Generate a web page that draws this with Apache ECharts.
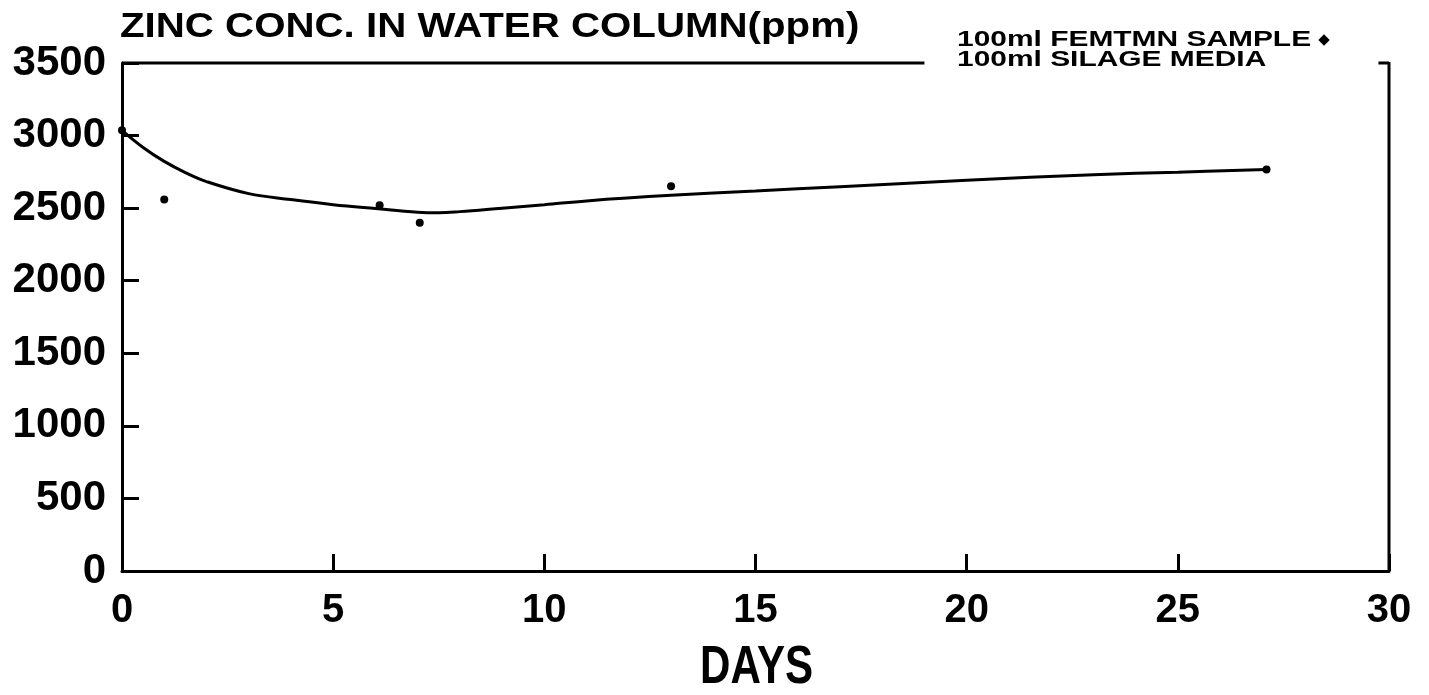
<!DOCTYPE html>
<html>
<head>
<meta charset="utf-8">
<script src="https://cdn.jsdelivr.net/npm/echarts@6/dist/echarts.min.js"></script>
<style>
  html, body { margin: 0; padding: 0; background: #fff; }
  #chart { width: 1429px; height: 695px; }
</style>
</head>
<body>
<div id="chart"></div>
<script>
// measured points (days, ppm)
const pointDays = [0, 1, 6.1, 7.05, 13, 27.1];
const pointZinc = [3036, 2560, 2520, 2400, 2650, 2766];

// fitted curve
const curveDays = [0, 0.5, 1, 1.5, 2, 3, 4, 5, 6, 7, 7.5, 8, 9, 10, 11, 13, 15, 17, 20, 23, 25, 27.1];
const curveZinc = [3036, 2918, 2822, 2745, 2683, 2600, 2559, 2524, 2497, 2472, 2468, 2476, 2500, 2524, 2550, 2588, 2618, 2648, 2692, 2730, 2748, 2766];

const xTicks = [0, 5, 10, 15, 20, 25, 30];
const yTicks = [0, 500, 1000, 1500, 2000, 2500, 3000, 3500];

const titleText = 'ZINC CONC. IN WATER COLUMN(ppm)';
const legendLines = ['100ml FEMTMN SAMPLE', '100ml SILAGE MEDIA'];
const xName = 'DAYS';

const chart = echarts.init(document.getElementById('chart'));
const font = '"Liberation Sans", Arial, sans-serif';

const option = {
  backgroundColor: '#fff',
  animation: false,
  grid: { left: 122, right: 40, top: 63, bottom: 124 },
  xAxis: {
    type: 'value',
    min: xTicks[0],
    max: xTicks[xTicks.length - 1],
    interval: 5,
    axisLine: { lineStyle: { color: '#000', width: 3 } },
    axisTick: { inside: true, length: 17, lineStyle: { color: '#000', width: 3 } },
    axisLabel: { color: '#000', fontFamily: font, fontWeight: 'bold', fontSize: 40, margin: 20 },
    splitLine: { show: false }
  },
  yAxis: {
    type: 'value',
    min: yTicks[0],
    max: yTicks[yTicks.length - 1],
    interval: 500,
    axisLine: { show: true, lineStyle: { color: '#000', width: 3 } },
    axisTick: { show: true, inside: true, length: 17, lineStyle: { color: '#000', width: 3 } },
    axisLabel: {
      color: '#000', fontFamily: font, fontWeight: 'bold', fontSize: 42, margin: 16,
      formatter: v => String(v)
    },
    splitLine: { show: false }
  },
  series: [
    {
      type: 'line',
      smooth: 0.4,
      showSymbol: false,
      lineStyle: { color: '#000', width: 3 },
      data: curveDays.map((d, i) => [d, curveZinc[i]])
    },
    {
      type: 'scatter',
      symbol: 'circle',
      symbolSize: 8,
      itemStyle: { color: '#000', opacity: 1 },
      data: pointDays.map((d, i) => [d, pointZinc[i]])
    }
  ]
};
chart.setOption(option);

// frame pieces + texts
const p = (x, y) => chart.convertToPixel({ gridIndex: 0 }, [x, y]);
const tl = p(0, 3500), gapL = p(19, 3500), gapR = p(29.75, 3500), tr = p(30, 3500), br = p(30, 0);
const ls = { stroke: '#000', lineWidth: 3 };

chart.setOption({
  graphic: [
    { type: 'line', shape: { x1: tl[0], y1: tl[1], x2: gapL[0], y2: gapL[1] }, style: ls },
    { type: 'line', shape: { x1: gapR[0], y1: gapR[1], x2: tr[0], y2: tr[1] }, style: ls },
    { type: 'line', shape: { x1: tr[0], y1: tr[1] - 1, x2: br[0], y2: br[1] }, style: ls },
    {
      type: 'text', x: 120, y: 27, scaleX: 1.15,
      style: { text: titleText, fill: '#000', font: 'bold 35px ' + font, textVerticalAlign: 'middle' }
    },
    {
      type: 'text', x: 957, y: 40, scaleX: 1.36,
      style: { text: legendLines[0], fill: '#000', font: 'bold 22px ' + font, textVerticalAlign: 'middle' }
    },
    {
      type: 'text', x: 1324, y: 40,
      style: { text: '\u25C6', fill: '#000', font: '15px "DejaVu Sans", sans-serif', textAlign: 'center', textVerticalAlign: 'middle' }
    },
    {
      type: 'text', x: 957, y: 60, scaleX: 1.36,
      style: { text: legendLines[1], fill: '#000', font: 'bold 22px ' + font, textVerticalAlign: 'middle' }
    },
    {
      type: 'text', x: 700, y: 668, scaleX: 0.78,
      style: { text: xName, fill: '#000', font: 'bold 54px ' + font, textVerticalAlign: 'middle' }
    }
  ]
});
</script>
</body>
</html>
